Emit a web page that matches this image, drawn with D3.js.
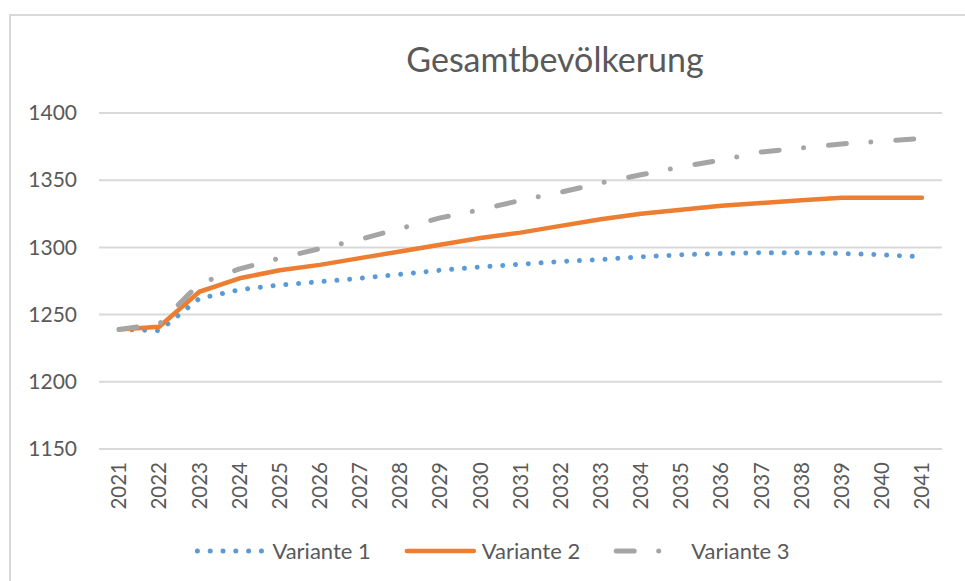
<!doctype html>
<html lang="de">
<head>
	<meta charset="utf-8">
	<title>Gesamtbevölkerung</title>
	<script src="https://cdn.jsdelivr.net/npm/d3@7/dist/d3.min.js"></script>
	<style>
		html, body { margin: 0; padding: 0; background: #fff; }
		svg { display: block; font-family: Lato, "Open Sans", sans-serif; }
	</style>
</head>
<body>
	<div id="chart"></div>

	<script>
		// data
		var years = ["2021", "2022", "2023", "2024", "2025", "2026", "2027", "2028", "2029", "2030", "2031",
			"2032", "2033", "2034", "2035", "2036", "2037", "2038", "2039", "2040", "2041"];
		var variante1 = [1239, 1238, 1262, 1268.5, 1272, 1274.5, 1277, 1280, 1283, 1285.5, 1287.5,
			1289.5, 1291, 1293, 1294.5, 1295.5, 1296, 1296, 1295.5, 1294.5, 1293];
		var variante2 = [1239, 1241, 1267, 1277, 1283, 1287, 1292, 1297, 1302, 1307, 1311,
			1316, 1321, 1325, 1328, 1331, 1333, 1335, 1337, 1337, 1337];
		var variante3 = [1239, 1243, 1273, 1284, 1292, 1299, 1306, 1314, 1322, 1328, 1335,
			1341, 1348, 1354, 1360, 1365, 1371, 1374, 1377, 1379, 1381];
		var seriesNames = ["Variante 1", "Variante 2", "Variante 3"];
		var yTicks = [1150, 1200, 1250, 1300, 1350, 1400];
		var title = "Gesamtbevölkerung";

		var widthSvg = 965;
		var heightSvg = 581;

		var styles = [
			{ color: "#5b9bd5", width: 5, dash: "0.01 12.8" },
			{ color: "#ed7d31", width: 4.5, dash: null },
			{ color: "#a5a5a5", width: 5, dash: "18 24.5 0.01 25" }
		];

		var series = [variante1, variante2, variante3].map(function(vals, i) {
			return { name: seriesNames[i], style: styles[i], values: vals };
		});

		var svg = d3.select("#chart").append("svg")
			.attr("width", widthSvg)
			.attr("height", heightSvg);

		// chart area border (only left and top are visible in the reference)
		svg.append("path")
			.attr("d", "M10,581 L10,15 L965,15")
			.attr("fill", "none")
			.attr("stroke", "#d9d9d9")
			.attr("stroke-width", 2);

		var xScale = d3.scaleBand().domain(years).range([99, 942]).padding(0);
		var yScale = d3.scaleLinear().domain([1150, 1400]).range([449, 113]);

		// gridlines
		svg.append("g")
			.selectAll("line")
			.data(yTicks)
			.enter().append("line")
			.attr("x1", xScale.range()[0])
			.attr("x2", xScale.range()[1])
			.attr("y1", function(d) { return yScale(d); })
			.attr("y2", function(d) { return yScale(d); })
			.attr("stroke", "#d9d9d9")
			.attr("stroke-width", 2);

		// y axis labels
		var yAxis = svg.append("g")
			.attr("transform", "translate(" + 77 + ",0)")
			.call(d3.axisLeft(yScale).tickValues(yTicks).tickFormat(d3.format("d")).tickSize(0).tickPadding(0));
		yAxis.select(".domain").remove();
		yAxis.selectAll("text")
			.attr("fill", "#595959")
			.style("font-size", "21px")
			.style("font-family", "Lato, sans-serif");

		// x axis labels, rotated
		var xAxis = svg.append("g")
			.attr("transform", "translate(0," + 449 + ")")
			.call(d3.axisBottom(xScale).tickSize(0).tickPadding(0));
		xAxis.select(".domain").remove();
		xAxis.selectAll("text")
			.attr("fill", "#595959")
			.style("font-size", "20.5px")
			.style("font-family", "Lato, sans-serif")
			.attr("transform", "rotate(-90)")
			.attr("text-anchor", "end")
			.attr("x", -13)
			.attr("y", 0)
			.attr("dy", "0.35em");

		// lines
		var line = d3.line()
			.x(function(d, i) { return xScale(years[i]) + xScale.bandwidth() / 2; })
			.y(function(d) { return yScale(d); });

		svg.append("g")
			.selectAll("path")
			.data(series)
			.enter().append("path")
			.attr("d", function(d) { return line(d.values); })
			.attr("fill", "none")
			.attr("stroke", function(d) { return d.style.color; })
			.attr("stroke-width", function(d) { return d.style.width; })
			.attr("stroke-linecap", "round")
			.attr("stroke-linejoin", "round")
			.attr("stroke-dasharray", function(d) { return d.style.dash; });

		// title
		svg.append("text")
			.attr("x", 555)
			.attr("y", 72)
			.attr("text-anchor", "middle")
			.attr("fill", "#595959")
			.style("font-size", "34px")
			.style("font-family", "Lato, sans-serif")
			.text(title);

		// legend
		var sampleStart = 3, sampleLen = 70, textGap = 8, itemGap = 33, legendCenter = 492, legendY = 551;
		var legend = svg.append("g");
		var items = legend.selectAll("g")
			.data(series)
			.enter().append("g");

		items.append("text")
			.attr("x", sampleLen + textGap)
			.attr("y", legendY)
			.attr("dy", "0.35em")
			.attr("fill", "#595959")
			.style("font-size", "22px")
			.style("font-family", "Lato, sans-serif")
			.text(function(d) { return d.name; });

		items.append("line")
			.attr("x1", sampleStart)
			.attr("x2", sampleLen)
			.attr("y1", legendY)
			.attr("y2", legendY)
			.attr("stroke", function(d) { return d.style.color; })
			.attr("stroke-width", function(d) { return d.style.width; })
			.attr("stroke-linecap", "round")
			.attr("stroke-dasharray", function(d) { return d.style.dash; });

		var widths = [];
		items.each(function() {
			widths.push(sampleLen + textGap + d3.select(this).select("text").node().getComputedTextLength());
		});
		var total = d3.sum(widths) + itemGap * (widths.length - 1);
		var pos = legendCenter - total / 2;
		items.attr("transform", function(d, i) {
			var x = pos;
			pos += widths[i] + itemGap;
			return "translate(" + x + ",0)";
		});
	</script>
</body>
</html>
